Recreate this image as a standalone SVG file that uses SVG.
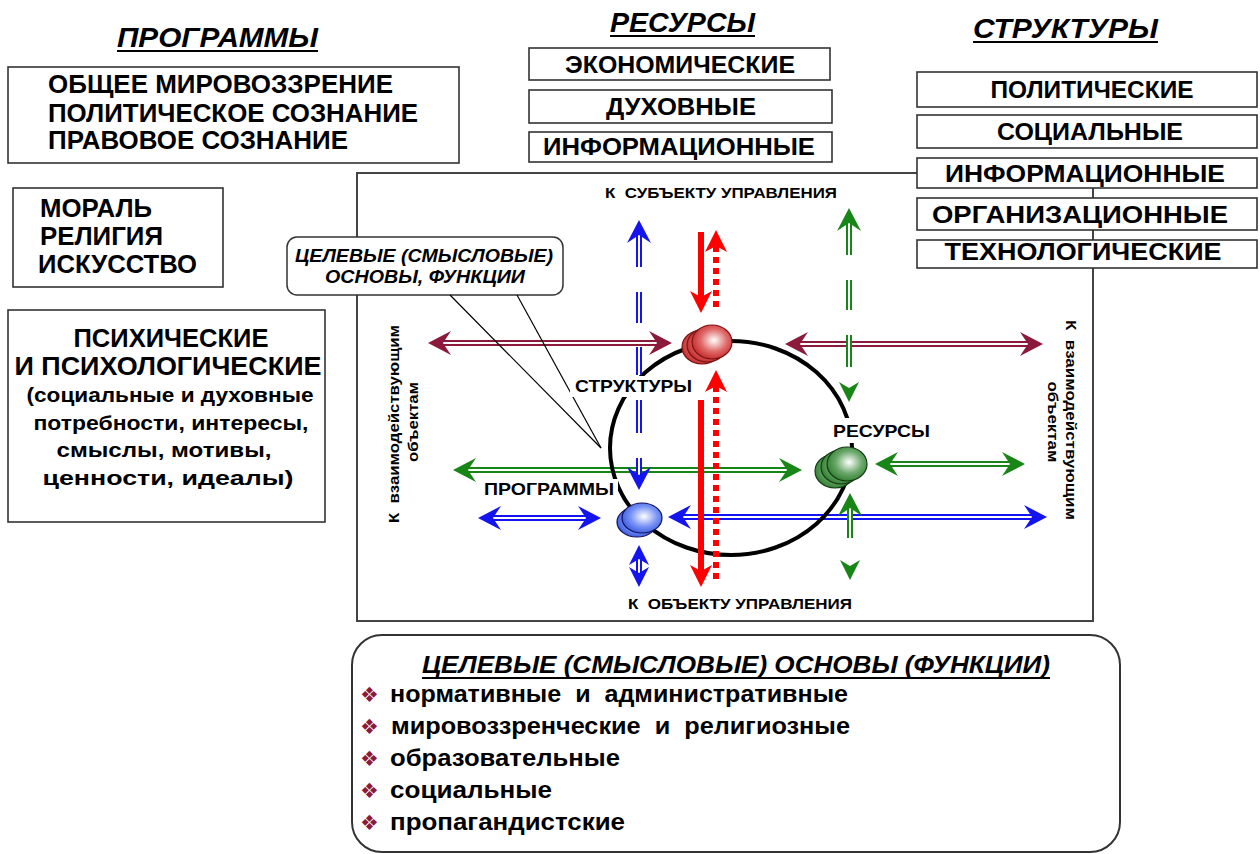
<svg xmlns="http://www.w3.org/2000/svg" width="1260" height="854" viewBox="0 0 1260 854">
<style>
text{font-family:"Liberation Sans",Arial,sans-serif;font-weight:bold;fill:#000}
.box{fill:#fff;stroke:#333;stroke-width:1.6}
.t25{font-size:25px}
.t23{font-size:23px}
.t21{font-size:21px}
.ttl{font-size:28px;font-style:italic}
.ul{stroke:#000;stroke-width:2}
.lbl{font-size:17px}
.sm{font-size:15px}
.bul{font-size:24px}
.star{font-family:"DejaVu Sans",sans-serif;font-size:21px;fill:#8b1a3c;font-weight:normal}
.mo{stroke:#8c1a3d;stroke-width:6;fill:none}
.go{stroke:#178617;stroke-width:6;fill:none}
.bo{stroke:#1414ee;stroke-width:6;fill:none}
.wi{stroke:#fff;stroke-width:2;fill:none}
.rs{stroke:#f00;stroke-width:6;fill:none}
.rd{stroke:#f00;stroke-width:6;fill:none;stroke-dasharray:6 5}
</style>
<defs>
<path id="ah" d="M0,0 L-23,-12 L-15,0 L-23,12 Z"/>
<path id="ahs" d="M0,0 L-20,-10 L-14,0 L-20,10 Z"/>
<path id="ahr" d="M0,0 L-22,-11 L-16,0 L-22,11 Z"/>
<radialGradient id="gr" cx="55%" cy="45%" r="60%"><stop offset="0" stop-color="#fff"/><stop offset="0.55" stop-color="#e06a6a"/><stop offset="1" stop-color="#c02424"/></radialGradient>
<radialGradient id="gg" cx="55%" cy="45%" r="60%"><stop offset="0" stop-color="#fff"/><stop offset="0.55" stop-color="#6aa86a"/><stop offset="1" stop-color="#2c7a2c"/></radialGradient>
<radialGradient id="gb" cx="55%" cy="45%" r="60%"><stop offset="0" stop-color="#fff"/><stop offset="0.55" stop-color="#7b95f5"/><stop offset="1" stop-color="#3656e0"/></radialGradient>
</defs>

<rect x="357" y="173" width="736" height="448" fill="none" stroke="#444" stroke-width="2"/>

<g id="programs">
<text class="ttl" x="117" y="47" textLength="201" lengthAdjust="spacingAndGlyphs">ПРОГРАММЫ</text>
<line class="ul" x1="117" y1="51" x2="318" y2="51"/>
</g>
<g id="prog-worldview">
<rect class="box" x="8" y="67" width="451" height="96"/>
<text class="t25" x="48" y="93" textLength="345" lengthAdjust="spacingAndGlyphs">ОБЩЕЕ МИРОВОЗЗРЕНИЕ</text>
<text class="t25" x="48" y="122" textLength="370" lengthAdjust="spacingAndGlyphs">ПОЛИТИЧЕСКОЕ СОЗНАНИЕ</text>
<text class="t25" x="48" y="149" textLength="300" lengthAdjust="spacingAndGlyphs">ПРАВОВОЕ СОЗНАНИЕ</text>
</g>
<g id="prog-moral">
<rect class="box" x="13" y="188" width="210" height="99"/>
<text class="t25" x="40" y="217" textLength="112" lengthAdjust="spacingAndGlyphs">МОРАЛЬ</text>
<text class="t25" x="40" y="245" textLength="123" lengthAdjust="spacingAndGlyphs">РЕЛИГИЯ</text>
<text class="t25" x="38" y="273" textLength="159" lengthAdjust="spacingAndGlyphs">ИСКУССТВО</text>
</g>
<g id="prog-psych">
<rect class="box" x="8" y="310" width="317" height="212"/>
<text class="t25" x="171" y="347" text-anchor="middle" textLength="195" lengthAdjust="spacingAndGlyphs">ПСИХИЧЕСКИЕ</text>
<text class="t25" x="168" y="375" text-anchor="middle" textLength="307" lengthAdjust="spacingAndGlyphs">И ПСИХОЛОГИЧЕСКИЕ</text>
<text class="t21" x="170" y="402" text-anchor="middle" textLength="287" lengthAdjust="spacingAndGlyphs">(социальные и духовные</text>
<text class="t21" x="171" y="430" text-anchor="middle" textLength="275" lengthAdjust="spacingAndGlyphs">потребности, интересы,</text>
<text class="t21" x="164" y="457" text-anchor="middle" textLength="215" lengthAdjust="spacingAndGlyphs">смыслы, мотивы,</text>
<text class="t21" x="168" y="485" text-anchor="middle" textLength="251" lengthAdjust="spacingAndGlyphs">ценности, идеалы)</text>
</g>

<g id="resources">
<text class="ttl" x="610" y="32" textLength="145" lengthAdjust="spacingAndGlyphs">РЕСУРСЫ</text>
<line class="ul" x1="610" y1="36" x2="755" y2="36"/>
</g>
<g id="res-econ">
<rect class="box" x="529" y="48" width="301" height="32"/>
<text class="t23" x="680" y="73" text-anchor="middle" textLength="230" lengthAdjust="spacingAndGlyphs">ЭКОНОМИЧЕСКИЕ</text>
</g>
<g id="res-spirit">
<rect class="box" x="529" y="90" width="303" height="33"/>
<text class="t23" x="681" y="115" text-anchor="middle" textLength="150" lengthAdjust="spacingAndGlyphs">ДУХОВНЫЕ</text>
</g>
<g id="res-info">
<rect class="box" x="529" y="132" width="303" height="30"/>
<text class="t23" x="679" y="155" text-anchor="middle" textLength="272" lengthAdjust="spacingAndGlyphs">ИНФОРМАЦИОННЫЕ</text>
</g>

<g id="structures">
<text class="ttl" x="973" y="38" textLength="185" lengthAdjust="spacingAndGlyphs">СТРУКТУРЫ</text>
<line class="ul" x1="973" y1="42" x2="1158" y2="42"/>
</g>
<g id="str-pol">
<rect class="box" x="917" y="72" width="340" height="35"/>
<text class="t23" x="1092" y="98" text-anchor="middle" textLength="203" lengthAdjust="spacingAndGlyphs">ПОЛИТИЧЕСКИЕ</text>
</g>
<g id="str-soc">
<rect class="box" x="917" y="115" width="340" height="33"/>
<text class="t23" x="1090" y="140" text-anchor="middle" textLength="186" lengthAdjust="spacingAndGlyphs">СОЦИАЛЬНЫЕ</text>
</g>
<g id="str-info">
<rect class="box" x="917" y="158" width="340" height="30"/>
<text class="t23" x="1085" y="182" text-anchor="middle" textLength="280" lengthAdjust="spacingAndGlyphs">ИНФОРМАЦИОННЫЕ</text>
</g>
<g id="str-org">
<rect class="box" x="917" y="198" width="340" height="32"/>
<text class="t23" x="1080" y="223" text-anchor="middle" textLength="296" lengthAdjust="spacingAndGlyphs">ОРГАНИЗАЦИОННЫЕ</text>
</g>
<g id="str-tech">
<rect class="box" x="917" y="240" width="340" height="28"/>
<text class="t23" x="1083" y="260" text-anchor="middle" textLength="277" lengthAdjust="spacingAndGlyphs">ТЕХНОЛОГИЧЕСКИЕ</text>
</g>

<g id="callout">
<rect x="287" y="237" width="276" height="58" rx="10" fill="#fff" stroke="#333" stroke-width="1.5"/>
<text x="424" y="262" text-anchor="middle" font-size="18" font-style="italic" textLength="258" lengthAdjust="spacingAndGlyphs">ЦЕЛЕВЫЕ (СМЫСЛОВЫЕ)</text>
<text x="425" y="283" text-anchor="middle" font-size="18" font-style="italic" textLength="200" lengthAdjust="spacingAndGlyphs">ОСНОВЫ, ФУНКЦИИ</text>
</g>

<g id="functions">
<rect x="352" y="635" width="768" height="217" rx="30" fill="#fff" stroke="#333" stroke-width="2"/>
<text x="422" y="673" font-size="23" font-style="italic" textLength="628" lengthAdjust="spacingAndGlyphs">ЦЕЛЕВЫЕ (СМЫСЛОВЫЕ) ОСНОВЫ (ФУНКЦИИ)</text>
<line class="ul" x1="422" y1="678" x2="1050" y2="678"/>
<text class="star" x="360" y="702">❖</text>
<text class="bul" x="390" y="702" textLength="458" lengthAdjust="spacingAndGlyphs">нормативные&#160; и&#160; административные</text>
<text class="star" x="360" y="734">❖</text>
<text class="bul" x="391" y="734" textLength="459" lengthAdjust="spacingAndGlyphs">мировоззренческие&#160; и&#160; религиозные</text>
<text class="star" x="360" y="766">❖</text>
<text class="bul" x="390" y="766" textLength="230" lengthAdjust="spacingAndGlyphs">образовательные</text>
<text class="star" x="360" y="798">❖</text>
<text class="bul" x="390" y="798" textLength="162" lengthAdjust="spacingAndGlyphs">социальные</text>
<text class="star" x="360" y="830">❖</text>
<text class="bul" x="390" y="830" textLength="235" lengthAdjust="spacingAndGlyphs">пропагандистские</text>
</g>

<g id="connectors">
<line class="mo" x1="441" y1="343" x2="659" y2="343"/><line class="wi" x1="441" y1="343" x2="659" y2="343"/>
<use href="#ah" transform="translate(428,343) rotate(180)" fill="#8c1a3d"/>
<use href="#ah" transform="translate(672,343)" fill="#8c1a3d"/>
<line class="mo" x1="798" y1="344" x2="1030" y2="344"/><line class="wi" x1="798" y1="344" x2="1030" y2="344"/>
<use href="#ah" transform="translate(785,344) rotate(180)" fill="#8c1a3d"/>
<use href="#ah" transform="translate(1043,344)" fill="#8c1a3d"/>
<line class="go" x1="466" y1="470" x2="789" y2="470"/><line class="wi" x1="466" y1="470" x2="789" y2="470"/>
<use href="#ah" transform="translate(453,470) rotate(180)" fill="#178617"/>
<use href="#ah" transform="translate(802,470)" fill="#178617"/>
<line class="go" x1="888" y1="464" x2="1012" y2="464"/><line class="wi" x1="888" y1="464" x2="1012" y2="464"/>
<use href="#ah" transform="translate(875,464) rotate(180)" fill="#178617"/>
<use href="#ah" transform="translate(1025,464)" fill="#178617"/>
<line class="bo" x1="491" y1="518" x2="588" y2="518"/><line class="wi" x1="491" y1="518" x2="588" y2="518"/>
<use href="#ah" transform="translate(478,518) rotate(180)" fill="#1414ee"/>
<use href="#ah" transform="translate(601,518)" fill="#1414ee"/>
<line class="bo" x1="681" y1="517" x2="1034" y2="517"/><line class="wi" x1="681" y1="517" x2="1034" y2="517"/>
<use href="#ah" transform="translate(668,517) rotate(180)" fill="#1414ee"/>
<use href="#ah" transform="translate(1047,517)" fill="#1414ee"/>
<ellipse cx="731" cy="448" rx="121" ry="107" fill="none" stroke="#000" stroke-width="4"/>
<line x1="450" y1="295" x2="601" y2="448" stroke="#000" stroke-width="1.2"/>
<line x1="517" y1="295" x2="601" y2="448" stroke="#000" stroke-width="1.2"/>
<path class="bo" d="M639,232V267M639,292V323M639,347V375M639,400V433M639,458V478"/>
<path class="wi" d="M639,232V267M639,292V323M639,347V375M639,400V433M639,458V478"/>
<use href="#ah" transform="translate(639,220) rotate(-90)" fill="#1414ee"/>
<use href="#ah" transform="translate(639,490) rotate(90)" fill="#1414ee"/>
<line class="bo" x1="639" y1="556" x2="639" y2="576"/><line class="wi" x1="639" y1="556" x2="639" y2="576"/>
<use href="#ahs" transform="translate(639,545) rotate(-90)" fill="#1414ee"/>
<use href="#ahs" transform="translate(639,587) rotate(90)" fill="#1414ee"/>
<path class="go" d="M849,220V255M849,280V310M849,335V367"/>
<path class="wi" d="M849,220V255M849,280V310M849,335V367"/>
<use href="#ah" transform="translate(849,208) rotate(-90)" fill="#178617"/>
<use href="#ahs" transform="translate(849,402) rotate(90)" fill="#178617"/>
<path class="go" d="M850,505V538"/><path class="wi" d="M850,505V538"/>
<use href="#ah" transform="translate(850,493) rotate(-90)" fill="#178617"/>
<use href="#ahs" transform="translate(850,580) rotate(90)" fill="#178617"/>
<line class="rs" x1="701" y1="232" x2="701" y2="298"/>
<use href="#ahr" transform="translate(701,313) rotate(90)" fill="#f00"/>
<line class="rs" x1="701" y1="400" x2="701" y2="572"/>
<use href="#ahr" transform="translate(701,587) rotate(90)" fill="#f00"/>
<line class="rd" x1="716" y1="246" x2="716" y2="312"/>
<use href="#ahr" transform="translate(716,230) rotate(-90)" fill="#f00"/>
<line class="rd" x1="716" y1="386" x2="716" y2="583"/>
<use href="#ahr" transform="translate(716,370) rotate(-90)" fill="#f00"/>
</g>

<g id="node-structures">
<ellipse cx="702" cy="347" rx="20" ry="17" fill="url(#gr)" stroke="#7a1212" stroke-width="1.2"/>
<ellipse cx="707" cy="345" rx="20" ry="17" fill="url(#gr)" stroke="#7a1212" stroke-width="1.2"/>
<ellipse cx="712" cy="342" rx="20" ry="17" fill="url(#gr)" stroke="#7a1212" stroke-width="1.2"/>
<rect x="570" y="376" width="124" height="21" fill="#fff"/>
<text class="lbl" x="575" y="392" textLength="117" lengthAdjust="spacingAndGlyphs">СТРУКТУРЫ</text>
</g>
<g id="node-resources">
<ellipse cx="835" cy="471" rx="20" ry="17" fill="url(#gg)" stroke="#143c14" stroke-width="1.2"/>
<ellipse cx="841" cy="467" rx="20" ry="17" fill="url(#gg)" stroke="#143c14" stroke-width="1.2"/>
<ellipse cx="847" cy="464" rx="20" ry="17" fill="url(#gg)" stroke="#143c14" stroke-width="1.2"/>
<rect x="829" y="418" width="104" height="25" fill="#fff"/>
<text class="lbl" x="833" y="437" textLength="97" lengthAdjust="spacingAndGlyphs">РЕСУРСЫ</text>
</g>
<g id="node-programs">
<ellipse cx="637" cy="522" rx="20" ry="15" fill="url(#gb)" stroke="#10105a" stroke-width="1.2"/>
<ellipse cx="642" cy="518" rx="20" ry="15" fill="url(#gb)" stroke="#10105a" stroke-width="1.2"/>
<rect x="480" y="479" width="138" height="19" fill="#fff"/>
<text class="lbl" x="484" y="495" textLength="130" lengthAdjust="spacingAndGlyphs">ПРОГРАММЫ</text>
</g>

<g id="labels">
<text class="sm" x="605" y="198" textLength="232" lengthAdjust="spacingAndGlyphs">К&#160; СУБЪЕКТУ УПРАВЛЕНИЯ</text>
<text class="sm" x="628" y="609" textLength="224" lengthAdjust="spacingAndGlyphs">К&#160; ОБЪЕКТУ УПРАВЛЕНИЯ</text>
<text class="sm" transform="translate(399,424) rotate(-90)" text-anchor="middle" textLength="198" lengthAdjust="spacingAndGlyphs">К&#160; взаимодействующим</text>
<text class="sm" transform="translate(418,422) rotate(-90)" text-anchor="middle" textLength="80" lengthAdjust="spacingAndGlyphs">объектам</text>
<text class="sm" transform="translate(1066,420) rotate(90)" text-anchor="middle" textLength="200" lengthAdjust="spacingAndGlyphs">К&#160; взаимодействующим</text>
<text class="sm" transform="translate(1048,422) rotate(90)" text-anchor="middle" textLength="81" lengthAdjust="spacingAndGlyphs">объектам</text>
</g>
</svg>
